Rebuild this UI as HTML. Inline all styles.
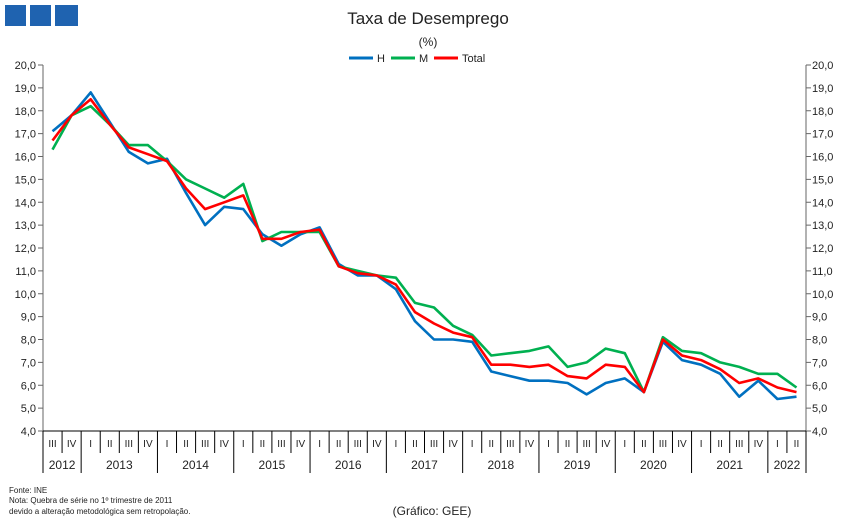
<!DOCTYPE html>
<html><head><meta charset="utf-8"><style>
body{margin:0;background:#fff;font-family:"Liberation Sans",sans-serif;}
svg text{font-family:"Liberation Sans",sans-serif;fill:#222;}
</style></head><body>
<svg id="c" width="851" height="523" viewBox="0 0 851 523" xmlns="http://www.w3.org/2000/svg">
<rect x="5" y="5" width="21" height="21" fill="#1f63b0"/>
<rect x="30" y="5" width="21" height="21" fill="#1f63b0"/>
<rect x="55" y="5" width="23" height="21" fill="#1f63b0"/>
<text x="428" y="24" font-size="17" text-anchor="middle">Taxa de Desemprego</text>
<text x="428" y="46" font-size="12" text-anchor="middle">(%)</text>
<g>
<line x1="349" y1="58" x2="373" y2="58" stroke="#0070c0" stroke-width="3"/><text x="377" y="62" font-size="11">H</text>
<line x1="391" y1="58" x2="415" y2="58" stroke="#00b050" stroke-width="3"/><text x="419" y="62" font-size="11">M</text>
<line x1="434" y1="58" x2="458" y2="58" stroke="#ff0000" stroke-width="3"/><text x="462" y="62" font-size="11">Total</text>
</g>
<g id="axes"></g>
<g id="series"></g>
<text x="9" y="493" font-size="8" fill="#444">Fonte: INE</text>
<text x="9" y="503" font-size="8" fill="#444">Nota: Quebra de série no 1º trimestre de 2011</text>
<text x="9" y="514" font-size="8" fill="#444">devido a alteração metodológica sem retropolação.</text>
<text x="432" y="515" font-size="12" text-anchor="middle">(Gráfico: GEE)</text>
</svg>
<script>
const quarters=["III","IV","I","II","III","IV","I","II","III","IV","I","II","III","IV","I","II","III","IV","I","II","III","IV","I","II","III","IV","I","II","III","IV","I","II","III","IV","I","II","III","IV","I","II"];
const years=["2012","2013","2014","2015","2016","2017","2018","2019","2020","2021","2022"];
const yearCounts=[2,4,4,4,4,4,4,4,4,4,2];
const seriesH=[17.1,17.8,18.8,17.5,16.2,15.7,15.9,14.4,13.0,13.8,13.7,12.6,12.1,12.6,12.9,11.3,10.8,10.8,10.2,8.8,8.0,8.0,7.9,6.6,6.4,6.2,6.2,6.1,5.6,6.1,6.3,5.7,7.9,7.1,6.9,6.5,5.5,6.2,5.4,5.5];
const seriesM=[16.3,17.8,18.2,17.4,16.5,16.5,15.8,15.0,14.6,14.2,14.8,12.3,12.7,12.7,12.7,11.2,11.0,10.8,10.7,9.6,9.4,8.6,8.2,7.3,7.4,7.5,7.7,6.8,7.0,7.6,7.4,5.7,8.1,7.5,7.4,7.0,6.8,6.5,6.5,5.9];
const seriesTotal=[16.7,17.8,18.5,17.4,16.4,16.1,15.8,14.6,13.7,14.0,14.3,12.4,12.4,12.7,12.8,11.2,10.9,10.8,10.4,9.2,8.7,8.3,8.1,6.9,6.9,6.8,6.9,6.4,6.3,6.9,6.8,5.7,8.0,7.3,7.1,6.7,6.1,6.3,5.9,5.7];
const yTicks=[4,5,6,7,8,9,10,11,12,13,14,15,16,17,18,19,20];

const NS="http://www.w3.org/2000/svg";
const L=43,R=806,T=65,B=431;
const n=quarters.length,bw=(R-L)/n;
const x=i=>L+(i+0.5)*bw;
const y=v=>B-(v-4)/16*(B-T);
function mk(tag,attrs,parent,txt){const e=document.createElementNS(NS,tag);for(const k in attrs)e.setAttribute(k,attrs[k]);if(txt!==undefined)e.textContent=txt;parent.appendChild(e);return e;}
const ax=document.getElementById('axes');
let e;
e=mk('line',{x1:L,y1:T,x2:L,y2:B,stroke:'#666'},ax);


e=mk('line',{x1:R,y1:T,x2:R,y2:B,stroke:'#666'},ax);


e=mk('line',{x1:L,y1:B,x2:R,y2:B,stroke:'#000'},ax);


yTicks.forEach(v=>{
  const yy=y(v),lab=v.toFixed(1).replace('.',',');
  mk('line',{x1:L-5,y1:yy,x2:L,y2:yy,stroke:'#666'},ax);
  mk('line',{x1:R,y1:yy,x2:R+5,y2:yy,stroke:'#666'},ax);
  e=mk('text',{x:36,y:yy+4,'font-size':11,'text-anchor':'end'},ax,lab);
  
  
  e=mk('text',{x:812,y:yy+4,'font-size':11},ax,lab);
  
  
});
for(let i=0;i<=n;i++){mk('line',{x1:L+i*bw,y1:B,x2:L+i*bw,y2:453,stroke:'#000'},ax);}
quarters.forEach((q,i)=>{
  e=mk('text',{x:x(i),y:447,'font-size':10,'text-anchor':'middle'},ax,q);
  
  
});
let s=0;
years.forEach((yr,j)=>{
  const a=L+s*bw,b=L+(s+yearCounts[j])*bw;
  mk('line',{x1:a,y1:453,x2:a,y2:473,stroke:'#000'},ax);
  e=mk('text',{x:(a+b)/2,y:469,'font-size':12,'text-anchor':'middle'},ax,yr);
  
  
  s+=yearCounts[j];
});
mk('line',{x1:R,y1:453,x2:R,y2:473,stroke:'#000'},ax);
const sg=document.getElementById('series');
[[seriesH,'#0070c0','series-h'],[seriesM,'#00b050','series-m'],[seriesTotal,'#ff0000','series-total']].forEach(([d,c,nm])=>{
  const p=mk('polyline',{points:d.map((v,i)=>x(i).toFixed(1)+','+y(v).toFixed(1)).join(' '),fill:'none',stroke:c,'stroke-width':2.6,'stroke-linejoin':'round'},sg);
  
  
});
</script>
</body></html>
